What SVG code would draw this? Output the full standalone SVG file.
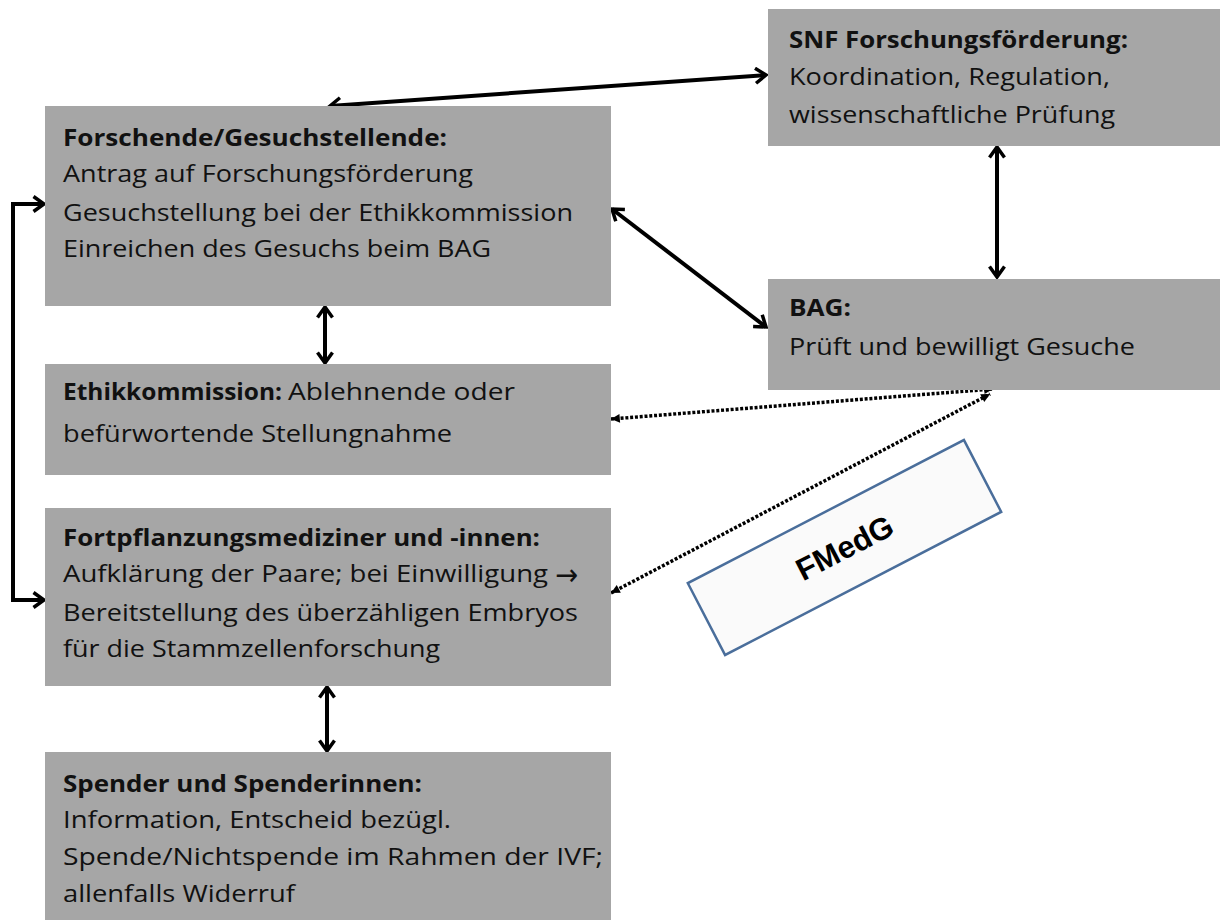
<svg xmlns="http://www.w3.org/2000/svg" width="1220" height="920" viewBox="0 0 1220 920">
<style>
.box{fill:#a6a6a6;}
.t{font-family:"Open Sans","Liberation Sans",sans-serif;font-size:24px;fill:#111;}
.b{font-weight:bold;}
.con{fill:none;stroke:#000;stroke-width:4;}
.dot{fill:none;stroke:#000;stroke-width:3.5;stroke-dasharray:3 1.8;}
.fm{fill:#fafafa;stroke:#4a6e9b;stroke-width:2.5;}
.fmt{font-family:"Liberation Sans",Arial,sans-serif;font-size:31px;font-weight:bold;fill:#000;}
.arr{font-family:"DejaVu Sans",sans-serif;font-size:30px;}
</style>
<defs>
<marker id="ah" viewBox="0 0 18 18" refX="14" refY="9" markerWidth="18" markerHeight="18" markerUnits="userSpaceOnUse" orient="auto-start-reverse">
<path d="M3.5,1.5 L14,9 L3.5,16.5" fill="none" stroke="#000" stroke-width="3.5"/>
</marker>
<marker id="dh" viewBox="0 0 10 10" refX="9" refY="5" markerWidth="11" markerHeight="11" markerUnits="userSpaceOnUse" orient="auto-start-reverse">
<path d="M1,1 L9,5 L1,9 Z" fill="#000"/>
</marker>
</defs>
<rect width="1220" height="920" fill="#fff"/>

<g id="connectors">
<line class="con" x1="330" y1="106" x2="766" y2="75" marker-start="url(#ah)" marker-end="url(#ah)"/>
<line class="con" x1="612" y1="209" x2="766" y2="327" marker-start="url(#ah)" marker-end="url(#ah)"/>
<line class="con" x1="325" y1="307" x2="325" y2="363" marker-start="url(#ah)" marker-end="url(#ah)"/>
<line class="con" x1="997" y1="147" x2="997" y2="277" marker-start="url(#ah)" marker-end="url(#ah)"/>
<line class="con" x1="327" y1="687" x2="327" y2="751" marker-start="url(#ah)" marker-end="url(#ah)"/>
<path class="con" d="M44,204 H13 V600 H44" marker-start="url(#ah)" marker-end="url(#ah)"/>
<line class="dot" x1="611" y1="419" x2="993" y2="389" marker-start="url(#dh)" marker-end="url(#dh)"/>
<line class="dot" x1="611" y1="593" x2="990" y2="394" marker-start="url(#dh)" marker-end="url(#dh)"/>
</g>

<g id="snf">
<rect class="box" x="768" y="9" width="452" height="137"/>
<text class="t b" x="789" y="48" textLength="339" lengthAdjust="spacingAndGlyphs">SNF Forschungsförderung:</text>
<text class="t" x="789" y="85" textLength="321" lengthAdjust="spacingAndGlyphs">Koordination, Regulation,</text>
<text class="t" x="789" y="123" textLength="326" lengthAdjust="spacingAndGlyphs">wissenschaftliche Prüfung</text>
</g>

<g id="forschende">
<rect class="box" x="45" y="106" width="566" height="200"/>
<text class="t b" x="63" y="146" textLength="384" lengthAdjust="spacingAndGlyphs">Forschende/Gesuchstellende:</text>
<text class="t" x="63" y="182" textLength="410" lengthAdjust="spacingAndGlyphs">Antrag auf Forschungsförderung</text>
<text class="t" x="63" y="221" textLength="510" lengthAdjust="spacingAndGlyphs">Gesuchstellung bei der Ethikkommission</text>
<text class="t" x="63" y="257" textLength="428" lengthAdjust="spacingAndGlyphs">Einreichen des Gesuchs beim BAG</text>
</g>

<g id="bag">
<rect class="box" x="768" y="279" width="452" height="111"/>
<text class="t b" x="789" y="316" textLength="62" lengthAdjust="spacingAndGlyphs">BAG:</text>
<text class="t" x="789" y="355" textLength="346" lengthAdjust="spacingAndGlyphs">Prüft und bewilligt Gesuche</text>
</g>

<g id="ethik">
<rect class="box" x="45" y="364" width="566" height="111"/>
<text class="t b" x="63" y="400" textLength="219" lengthAdjust="spacingAndGlyphs">Ethikkommission:</text>
<text class="t" x="288" y="400" textLength="227" lengthAdjust="spacingAndGlyphs">Ablehnende oder</text>
<text class="t" x="63" y="442" textLength="389" lengthAdjust="spacingAndGlyphs">befürwortende Stellungnahme</text>
</g>

<g id="fortpflanzung">
<rect class="box" x="45" y="508" width="566" height="178"/>
<text class="t b" x="63" y="546" textLength="477" lengthAdjust="spacingAndGlyphs">Fortpflanzungsmediziner und -innen:</text>
<text class="t" x="63" y="582" textLength="485" lengthAdjust="spacingAndGlyphs">Aufklärung der Paare; bei Einwilligung</text>
<text class="t arr" x="555" y="585" textLength="23" lengthAdjust="spacingAndGlyphs">→</text>
<text class="t" x="63" y="621" textLength="515" lengthAdjust="spacingAndGlyphs">Bereitstellung des überzähligen Embryos</text>
<text class="t" x="63" y="657" textLength="377" lengthAdjust="spacingAndGlyphs">für die Stammzellenforschung</text>
</g>

<g id="spender">
<rect class="box" x="45" y="752" width="566" height="168"/>
<text class="t b" x="63" y="792" textLength="359" lengthAdjust="spacingAndGlyphs">Spender und Spenderinnen:</text>
<text class="t" x="63" y="828" textLength="388" lengthAdjust="spacingAndGlyphs">Information, Entscheid bezügl.</text>
<text class="t" x="63" y="865" textLength="540" lengthAdjust="spacingAndGlyphs">Spende/Nichtspende im Rahmen der IVF;</text>
<text class="t" x="63" y="902" textLength="232" lengthAdjust="spacingAndGlyphs">allenfalls Widerruf</text>
</g>

<g id="fmedg" transform="translate(844.5,547.5) rotate(-27.4)">
<rect class="fm" x="-155.5" y="-40.5" width="311" height="81"/>
<text class="fmt" x="0" y="11" text-anchor="middle">FMedG</text>
</g>
</svg>
